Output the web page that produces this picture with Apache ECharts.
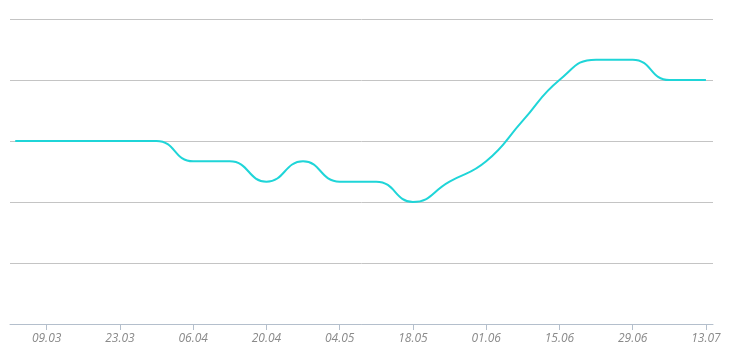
<!DOCTYPE html>
<html>
<head>
<meta charset="utf-8">
<script src="https://cdn.jsdelivr.net/npm/echarts@6/dist/echarts.min.js"></script>
<style>
  html, body { margin: 0; padding: 0; background: #fff; }
  #chart { width: 730px; height: 360px; }
</style>
</head>
<body>
<div id="chart"></div>
<script>
// weekly values (dd.mm, 2020)
var dates = ['03.03', '09.03', '16.03', '23.03', '30.03', '06.04', '13.04', '20.04', '27.04', '04.05',
             '11.05', '18.05', '25.05', '01.06', '08.06', '15.06', '22.06', '29.06', '06.07', '13.07'];
var values = [9, 9, 9, 9, 9, 8, 8, 7, 8, 7,
              7, 6, 7, 8, 10, 12, 13, 13, 12, 12];
var tickLabels = ['09.03', '23.03', '06.04', '20.04', '04.05', '18.05', '01.06', '15.06', '29.06', '13.07'];

var DAY = 86400000;
var start = new Date(2020, 2, 2).getTime();

// days since 02.03
function toDay(s) {
    var p = s.split('.');
    var t = new Date(2020, parseInt(p[1], 10) - 1, parseInt(p[0], 10)).getTime();
    return Math.round((t - start) / DAY);
}
function pad(n) {
    return n < 10 ? '0' + n : '' + n;
}

var seriesData = [];
for (var i = 0; i < dates.length; i++) {
    seriesData.push([toDay(dates[i]), values[i]]);
}
var tickDays = [];
for (var j = 0; j < tickLabels.length; j++) {
    tickDays.push(toDay(tickLabels[j]));
}

var myChart = echarts.init(document.getElementById('chart'));
var option = {
    animation: false,
    grid: { left: 10, right: 17, top: 19, bottom: 36 },
    xAxis: {
        type: 'value',
        min: 0,
        max: 134.35,
        axisLine: { lineStyle: { color: '#b4bfcc', width: 1 } },
        axisTick: { show: true, length: 6, lineStyle: { color: '#b4bfcc' }, customValues: tickDays },
        axisLabel: {
            customValues: tickDays,
            color: '#8a8a8a',
            fontStyle: 'italic',
            fontFamily: 'Open Sans',
            fontSize: 12,
            margin: 9,
            formatter: function (v) {
                var d = new Date(start + Math.round(v) * DAY + 12 * 3600000);
                return pad(d.getDate()) + '.' + pad(d.getMonth() + 1);
            }
        },
        splitLine: { show: false }
    },
    yAxis: {
        type: 'value',
        min: 0,
        max: 15,
        interval: 3,
        axisLine: { show: false },
        axisTick: { show: false },
        axisLabel: { show: false },
        splitLine: { lineStyle: { color: '#c4c4c4', width: 1 } }
    },
    series: [{
        type: 'line',
        data: seriesData,
        smooth: true,
        showSymbol: false,
        lineStyle: { color: '#1fd5d8', width: 2 },
        itemStyle: { color: '#1fd5d8' }
    }]
};
myChart.setOption(option);
</script>
</body>
</html>
